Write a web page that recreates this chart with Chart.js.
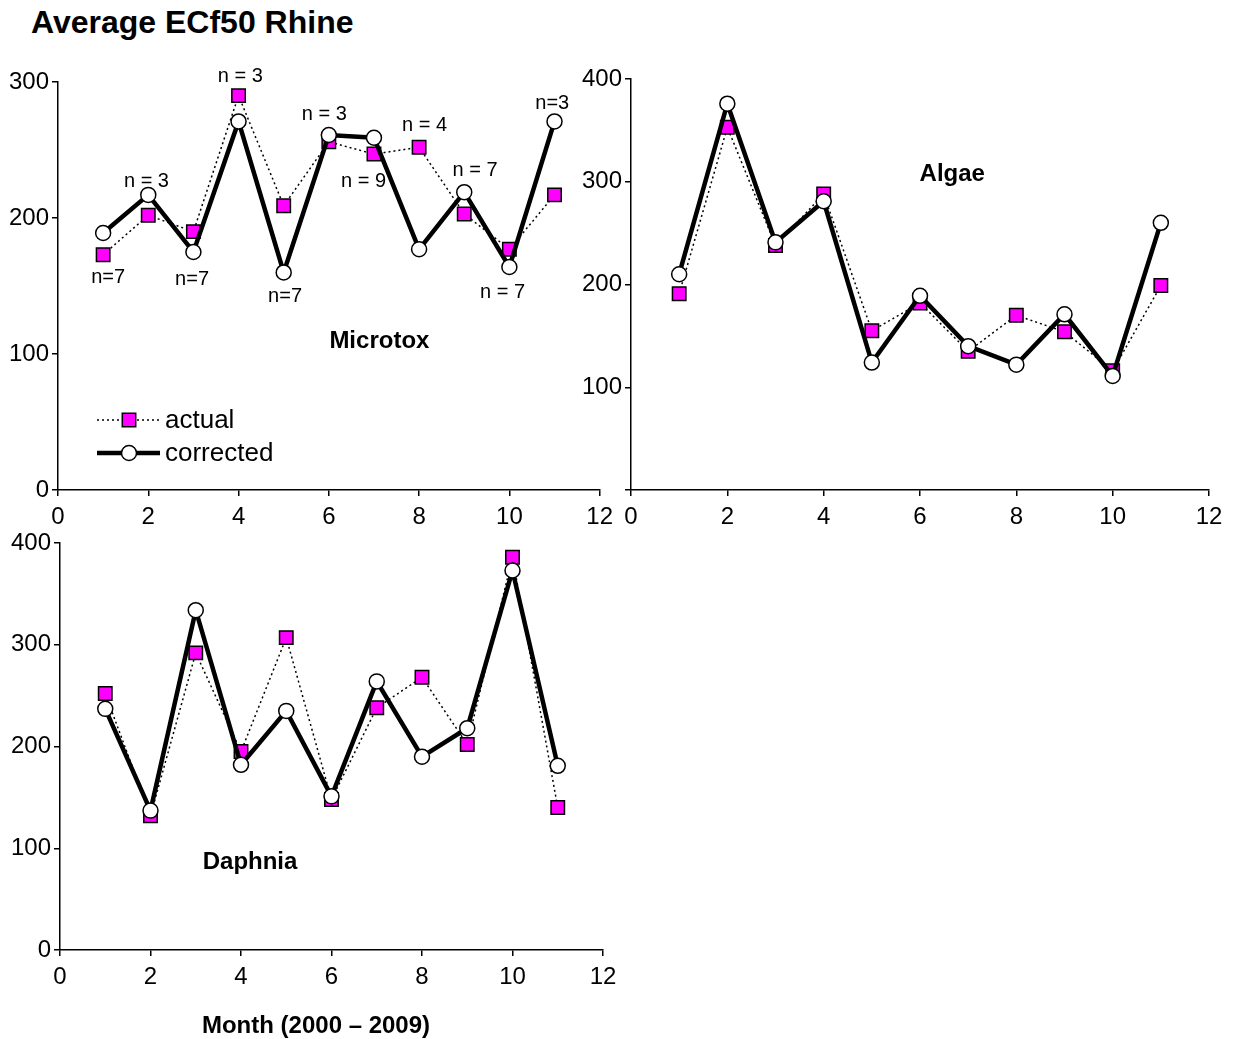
<!DOCTYPE html>
<html>
<head>
<meta charset="utf-8">
<title>Average ECf50 Rhine</title>
<script src="https://cdn.jsdelivr.net/npm/chart.js@4.4.1/dist/chart.umd.min.js"></script>
<style>
body { margin: 0; background: #fff; width: 1246px; height: 1039px; position: relative; overflow: hidden; font-family: "Liberation Sans", Arial, sans-serif; }
#title { position: absolute; left: 31px; top: 6px; font-size: 32px; line-height: 32px; font-weight: bold; color: #000; }
canvas { position: absolute; }
</style>
</head>
<body>
<div id="title">Average ECf50 Rhine</div>
<canvas id="microtox" width="620" height="480" style="left:0;top:60px"></canvas>
<canvas id="algae" width="666" height="485" style="left:580px;top:55px"></canvas>
<canvas id="daphnia" width="640" height="519" style="left:0;top:520px"></canvas>
<script>
// months on the x axis and the tick values
var months = [1, 2, 3, 4, 5, 6, 7, 8, 9, 10, 11];
var xTicks = [0, 2, 4, 6, 8, 10, 12];
var yTicks300 = [0, 100, 200, 300];
var yTicks400 = [0, 100, 200, 300, 400];

var seriesNames = ['actual', 'corrected'];

var microtoxActual    = [173, 202, 190, 290, 209, 256, 247, 252, 203, 177, 217];
var microtoxCorrected = [189, 217, 175, 271, 160, 261, 259, 177, 219, 164, 271];

var algaeActual    = [191, 353, 238, 288, 155, 182, 135, 170, 154, 116, 199];
var algaeCorrected = [210, 376, 241, 281, 124, 189, 140, 122, 171, 111, 260];

var daphniaActual    = [252, 132, 292, 195, 307, 148, 238, 268, 202, 386, 140];
var daphniaCorrected = [237, 137, 334, 182, 235, 151, 264, 190, 218, 373, 181];

// sample counts written next to the Microtox points
var nLabels = ['n=7', 'n = 3', 'n=7', 'n = 3', 'n=7', 'n = 3', 'n = 9', 'n = 4', 'n = 7', 'n = 7', 'n=3'];
var nLabelX = [1.11, 1.96, 2.97, 4.04, 5.03, 5.9, 6.77, 8.12, 9.24, 9.85, 10.95];
var nLabelY = [156, 227, 155, 304, 142, 276, 227, 268, 235, 145, 284];

var sFont = '"Liberation Sans", Arial, sans-serif';

function pointsOf(aValues) {
    return months.map(function(m, i) { return {x: m, y: aValues[i]}; });
}

var oActualStyle = {
    borderColor: '#000',
    borderWidth: 1.5,
    borderDash: [2, 3],
    pointStyle: 'rect',
    pointRadius: 9.5,
    pointBackgroundColor: '#ff00ff',
    pointBorderColor: '#000',
    pointBorderWidth: 1.5
};
var oCorrectedStyle = {
    borderColor: '#000',
    borderWidth: 4.5,
    pointStyle: 'circle',
    pointRadius: 7.5,
    pointBackgroundColor: '#fff',
    pointBorderColor: '#000',
    pointBorderWidth: 1.5
};

// texts placed in data units: panel name, n labels, legend and axis title
var panelText = {
    id: 'panelText',
    afterDatasetsDraw: function(chart, args, opts) {
        var ctx = chart.ctx, x = chart.scales.x, y = chart.scales.y, a = chart.chartArea;
        ctx.save();
        ctx.fillStyle = '#000';
        ctx.textAlign = 'center';
        ctx.textBaseline = 'middle';

        ctx.font = 'bold 24px ' + sFont;
        ctx.fillText(opts.name, x.getPixelForValue(opts.nameAt[0]), y.getPixelForValue(opts.nameAt[1]));

        if (opts.notes) {
            ctx.font = '20px ' + sFont;
            opts.notes.forEach(function(t, i) {
                ctx.fillText(t, x.getPixelForValue(nLabelX[i]), y.getPixelForValue(nLabelY[i]));
            });
        }

        if (opts.legend) {
            var aStyles = [oActualStyle, oCorrectedStyle];
            ctx.textAlign = 'left';
            ctx.font = '26px ' + sFont;
            seriesNames.forEach(function(sName, i) {
                var s = aStyles[i], yy = a.top + 338 + i * 33;
                ctx.save();
                ctx.strokeStyle = s.borderColor;
                ctx.lineWidth = s.borderWidth;
                ctx.setLineDash(s.borderDash || []);
                ctx.beginPath();
                ctx.moveTo(a.left + 39, yy);
                ctx.lineTo(a.left + 102, yy);
                ctx.stroke();
                ctx.restore();
                ctx.fillStyle = s.pointBackgroundColor;
                ctx.strokeStyle = s.pointBorderColor;
                ctx.lineWidth = s.pointBorderWidth;
                ctx.setLineDash([]);
                Chart.helpers.drawPoint(ctx, {pointStyle: s.pointStyle, radius: s.pointRadius, borderWidth: s.pointBorderWidth, rotation: 0}, a.left + 71, yy);
                ctx.fillStyle = '#000';
                ctx.fillText(sName, a.left + 107, yy + 1);
            });
        }

        if (opts.xTitle) {
            ctx.textAlign = 'center';
            ctx.font = 'bold 24px ' + sFont;
            ctx.fillText(opts.xTitle, a.left + 256, a.bottom + 76);
        }
        ctx.restore();
    }
};

function makePanel(sId, aActual, aCorrected, aYTicks, o) {
    var oTickFont = {family: sFont, size: 24};
    var oGrid = {drawOnChartArea: false, drawTicks: true, tickLength: 6, color: '#000', lineWidth: 1.5};
    return new Chart(document.getElementById(sId), {
        type: 'line',
        data: {
            datasets: [
                Object.assign({label: seriesNames[0], data: pointsOf(aActual), order: 1}, oActualStyle),
                Object.assign({label: seriesNames[1], data: pointsOf(aCorrected), order: 0}, oCorrectedStyle)
            ]
        },
        options: {
            responsive: false,
            animation: false,
            devicePixelRatio: 1,
            layout: {padding: o.padding},
            scales: {
                x: {
                    type: 'linear',
                    min: xTicks[0],
                    max: xTicks[xTicks.length - 1],
                    afterBuildTicks: function(s) { s.ticks = xTicks.map(function(v) { return {value: v}; }); },
                    afterFit: function(s) { s.height = o.xHeight; },
                    grid: oGrid,
                    border: {color: '#000', width: 1.5},
                    ticks: {color: '#000', font: oTickFont, padding: 7, maxRotation: 0}
                },
                y: {
                    min: aYTicks[0],
                    max: aYTicks[aYTicks.length - 1],
                    afterBuildTicks: function(s) { s.ticks = aYTicks.map(function(v) { return {value: v}; }); },
                    afterFit: function(s) { s.width = o.yWidth; },
                    grid: oGrid,
                    border: {color: '#000', width: 1.5},
                    ticks: {
                        color: '#000', font: oTickFont, padding: 3,
                        callback: function(v) { return (v === 0 && o.hideZero) ? '' : v; }
                    }
                }
            },
            plugins: {
                legend: {display: false},
                tooltip: {enabled: false},
                panelText: o.text
            }
        },
        plugins: [panelText]
    });
}

makePanel('microtox', microtoxActual, microtoxCorrected, yTicks300, {
    yWidth: 58, xHeight: 45,
    padding: {top: 22, right: 19, bottom: 5, left: 0},
    text: {name: 'Microtox', nameAt: [7.12, 109], notes: nLabels, legend: true}
});

makePanel('algae', algaeActual, algaeCorrected, yTicks400, {
    yWidth: 51, xHeight: 45, hideZero: true,
    padding: {top: 24, right: 37, bottom: 5, left: 0},
    text: {name: 'Algae', nameAt: [6.67, 307]}
});

makePanel('daphnia', daphniaActual, daphniaCorrected, yTicks400, {
    yWidth: 60, xHeight: 89,
    padding: {top: 23, right: 37, bottom: 0, left: 0},
    text: {name: 'Daphnia', nameAt: [4.2, 86], xTitle: 'Month (2000 \u2013 2009)'}
});
</script>
</body>
</html>
